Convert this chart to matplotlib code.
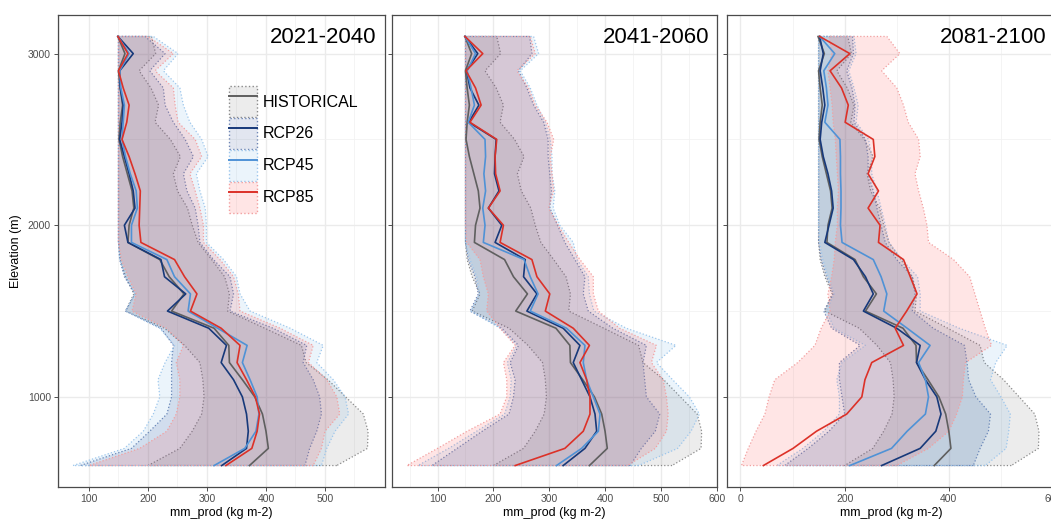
import matplotlib
matplotlib.use("Agg")
import matplotlib.pyplot as plt
from matplotlib.patches import Patch
from matplotlib.lines import Line2D

plt.rcParams["font.family"] = ["Liberation Sans", "DejaVu Sans"]

# ---- Data ----
elev = [600, 700, 800, 900, 1000, 1100, 1200, 1300, 1400, 1500, 1600, 1700, 1800,
        1900, 2000, 2100, 2200, 2300, 2400, 2500, 2600, 2700, 2800, 2900, 3000, 3100]

periods = ["2021-2040", "2041-2060", "2081-2100"]
scenarios = ["HISTORICAL", "RCP26", "RCP45", "RCP85"]

# historical (same in every panel)
hist_mid = [372, 404, 400, 394, 381, 360, 338, 337, 312, 240, 261, 236, 220,
            166, 168, 176, 173, 165, 157, 151, 153, 157, 153, 150, 161, 149]
hist_lo = [200, 254, 275, 291, 295, 293, 288, 262, 228, 162, 176, 162, 153,
           150, 150, 150, 150, 150, 150, 150, 150, 150, 150, 150, 150, 150]
hist_hi = [520, 572, 573, 565, 535, 505, 468, 460, 398, 335, 338, 330, 308,
           285, 275, 267, 250, 243, 255, 238, 212, 218, 205, 185, 213, 206]

# 2021-2040
p1_26_mid = [325, 367, 370, 367, 360, 345, 324, 333, 303, 233, 264, 228, 222,
             166, 160, 178, 175, 168, 160, 152, 156, 158, 153, 152, 175, 149]
p1_26_lo = [85, 172, 203, 232, 240, 240, 240, 243, 222, 162, 178, 160, 152,
            150, 150, 150, 150, 150, 150, 150, 150, 150, 150, 150, 150, 150]
p1_26_hi = [466, 474, 486, 494, 491, 480, 463, 469, 412, 339, 345, 339, 311,
            288, 285, 280, 266, 260, 277, 263, 243, 229, 226, 203, 229, 195]
p1_45_mid = [312, 364, 383, 388, 385, 373, 360, 368, 318, 268, 272, 245, 232,
             172, 172, 182, 180, 170, 162, 156, 158, 160, 154, 152, 168, 149]
p1_45_lo = [73, 160, 192, 209, 220, 217, 229, 245, 220, 162, 178, 162, 152,
            150, 150, 150, 150, 150, 150, 150, 150, 150, 150, 150, 150, 150]
p1_45_hi = [494, 503, 517, 540, 534, 514, 486, 497, 441, 373, 356, 350, 328,
            299, 299, 297, 288, 282, 302, 291, 271, 260, 254, 226, 251, 209]
p1_85_mid = [332, 376, 385, 389, 382, 367, 351, 356, 324, 272, 283, 262, 245,
             188, 185, 186, 187, 178, 168, 156, 164, 168, 158, 150, 166, 149]
p1_85_lo = [100, 186, 232, 248, 254, 254, 248, 260, 231, 173, 180, 166, 155,
            150, 150, 150, 150, 150, 150, 150, 150, 150, 150, 150, 150, 150]
p1_85_hi = [480, 494, 500, 525, 520, 503, 472, 480, 424, 356, 353, 345, 322,
            294, 294, 288, 280, 271, 291, 280, 251, 246, 243, 212, 243, 200]

# 2041-2060
p2_26_mid = [325, 364, 385, 382, 373, 358, 343, 355, 325, 260, 278, 254, 257,
             203, 215, 191, 210, 202, 203, 205, 156, 174, 158, 152, 172, 149]
p2_26_lo = [90, 135, 180, 228, 236, 239, 230, 245, 215, 158, 173, 167, 155,
            150, 150, 150, 150, 150, 150, 150, 150, 150, 150, 150, 150, 150]
p2_26_hi = [445, 465, 490, 498, 474, 471, 468, 474, 414, 370, 361, 364, 346,
            328, 315, 301, 304, 301, 298, 298, 290, 272, 260, 245, 269, 265]
p2_45_mid = [313, 358, 388, 391, 379, 367, 361, 364, 331, 266, 280, 266, 255,
             182, 185, 181, 186, 183, 186, 185, 155, 166, 160, 153, 168, 149]
p2_45_lo = [65, 120, 170, 220, 230, 232, 225, 242, 212, 160, 175, 170, 158,
            150, 150, 150, 150, 150, 150, 150, 150, 150, 150, 150, 150, 150]
p2_45_hi = [460, 530, 554, 569, 551, 521, 492, 527, 438, 380, 372, 370, 350,
            343, 319, 307, 310, 305, 305, 302, 293, 278, 266, 248, 281, 272]
p2_85_mid = [239, 328, 361, 373, 373, 367, 355, 372, 343, 293, 301, 278, 269,
             212, 218, 191, 212, 204, 203, 206, 158, 178, 168, 151, 181, 149]
p2_85_lo = [45, 100, 153, 212, 224, 224, 218, 239, 212, 188, 191, 182, 176,
            152, 150, 150, 150, 150, 150, 150, 150, 150, 150, 150, 150, 150]
p2_85_hi = [440, 490, 510, 513, 510, 504, 483, 492, 426, 388, 379, 379, 355,
            335, 316, 299, 308, 305, 302, 308, 296, 275, 263, 242, 275, 266]

# 2081-2100
p3_26_mid = [271, 345, 375, 385, 377, 355, 338, 345, 300, 236, 255, 240, 217,
             162, 170, 178, 175, 168, 159, 153, 156, 162, 158, 153, 159, 152]
p3_26_lo = [85, 130, 170, 200, 195, 190, 190, 230, 175, 160, 178, 165, 155,
            150, 150, 150, 150, 150, 150, 150, 150, 150, 150, 150, 150, 150]
p3_26_hi = [447, 460, 476, 480, 452, 438, 435, 430, 370, 330, 335, 330, 300,
            278, 270, 262, 255, 245, 245, 240, 218, 220, 214, 204, 217, 215]
p3_45_mid = [210, 290, 320, 355, 361, 355, 342, 364, 320, 275, 281, 270, 255,
             195, 192, 193, 193, 192, 192, 191, 162, 168, 165, 160, 181, 152]
p3_45_lo = [70, 120, 160, 190, 190, 185, 195, 240, 180, 165, 180, 168, 158,
            152, 150, 150, 150, 150, 150, 150, 150, 150, 150, 150, 150, 150]
p3_45_hi = [470, 510, 515, 518, 500, 480, 490, 512, 420, 345, 345, 340, 310,
            285, 278, 270, 262, 252, 252, 246, 222, 226, 218, 208, 222, 218]
p3_85_mid = [44, 101, 146, 204, 233, 239, 252, 313, 297, 319, 339, 326, 313,
             265, 268, 245, 265, 245, 258, 255, 201, 207, 194, 172, 210, 152]
p3_85_lo = [2, 15, 30, 47, 55, 66, 110, 143, 155, 172, 168, 175, 180,
            182, 186, 186, 188, 186, 184, 182, 178, 176, 172, 168, 175, 170]
p3_85_hi = [300, 361, 400, 415, 426, 428, 432, 482, 470, 460, 450, 440, 409,
            361, 358, 351, 342, 335, 345, 342, 322, 313, 300, 271, 306, 281]

panels = [
    {"HISTORICAL": (hist_mid, hist_lo, hist_hi), "RCP26": (p1_26_mid, p1_26_lo, p1_26_hi),
     "RCP45": (p1_45_mid, p1_45_lo, p1_45_hi), "RCP85": (p1_85_mid, p1_85_lo, p1_85_hi)},
    {"HISTORICAL": (hist_mid, hist_lo, hist_hi), "RCP26": (p2_26_mid, p2_26_lo, p2_26_hi),
     "RCP45": (p2_45_mid, p2_45_lo, p2_45_hi), "RCP85": (p2_85_mid, p2_85_lo, p2_85_hi)},
    {"HISTORICAL": (hist_mid, hist_lo, hist_hi), "RCP26": (p3_26_mid, p3_26_lo, p3_26_hi),
     "RCP45": (p3_45_mid, p3_45_lo, p3_45_hi), "RCP85": (p3_85_mid, p3_85_lo, p3_85_hi)},
]

# ---- Style ----
line_col = {"HISTORICAL": "#5f5f5f", "RCP26": "#17397a", "RCP45": "#4f92d6", "RCP85": "#dc3128"}
fill_col = {"HISTORICAL": ((0.5, 0.5, 0.5), 0.15), "RCP26": ((0.12, 0.27, 0.55), 0.13),
            "RCP45": ((0.24, 0.59, 0.86), 0.10), "RCP85": ((1.0, 0.24, 0.24), 0.13)}
edge_col = {"HISTORICAL": "#8a8a8a", "RCP26": "#6f86b5", "RCP45": "#9cc6ec", "RCP85": "#f2a0a0"}

positions = [[58 / 1051, 32 / 519, 327 / 1051, 472 / 519],
             [392 / 1051, 32 / 519, 325 / 1051, 472 / 519],
             [727 / 1051, 32 / 519, 328 / 1051, 472 / 519]]
xlims = [(47.5, 601.7), (18.4, 600.5), (-25.8, 603.8)]
xmajor = [[100, 200, 300, 400, 500], [100, 200, 300, 400, 500, 600], [0, 200, 400, 600]]
xminor = [[50, 150, 250, 350, 450, 550], [50, 150, 250, 350, 450, 550], [100, 300, 500]]

fig = plt.figure(figsize=(10.51, 5.19), dpi=100)

for i, data in enumerate(panels):
    ax = fig.add_axes(positions[i])
    for s in scenarios:
        mid, lo, hi = data[s]
        c, a = fill_col[s]
        ax.fill_betweenx(elev, lo, hi, facecolor=(*c, a), edgecolor=edge_col[s],
                         linestyle=":", linewidth=0.9, zorder=2)
    for s in scenarios:
        mid = data[s][0]
        ax.plot(mid, elev, color=line_col[s], lw=1.2, zorder=3)

    ax.set_xlim(*xlims[i])
    ax.set_ylim(475, 3225)
    ax.set_xticks(xmajor[i])
    ax.set_xticks(xminor[i], minor=True)
    ax.set_yticks([1000, 2000, 3000])
    ax.set_yticks([1500, 2500], minor=True)
    ax.grid(which="major", color="#ebebeb", lw=1.0, zorder=0)
    ax.grid(which="minor", color="#f2f2f2", lw=0.6, zorder=0)
    ax.set_axisbelow(True)
    ax.tick_params(which="major", length=3, width=0.6, color="#333333",
                   labelsize=7.5, labelcolor="#4d4d4d", pad=2)
    ax.tick_params(which="minor", length=0)
    for sp in ax.spines.values():
        sp.set_color("#4a4a4a")
        sp.set_linewidth(0.9)
    if i > 0:
        ax.tick_params(axis="y", labelleft=False)
    else:
        ax.set_ylabel("Elevation (m)", fontsize=9, labelpad=4)
    ax.set_xlabel("mm_prod (kg m-2)", fontsize=9, labelpad=2)
    ax.text(0.975, 0.975, periods[i], transform=ax.transAxes, ha="right", va="top",
            fontsize=16, color="black")

    if i == 0:
        handles = []
        for s in scenarios:
            c, a = fill_col[s]
            p = Patch(facecolor=(*c, a), edgecolor=edge_col[s], linestyle=":", linewidth=1.0)
            l = Line2D([], [], color=line_col[s], lw=1.4)
            handles.append((p, l))
        ax.legend(handles, scenarios, loc="upper left", bbox_to_anchor=(0.522, 0.849),
                  frameon=False, fontsize=11.5, handlelength=1.8, handleheight=2.6,
                  handletextpad=0.35, labelspacing=0.06, borderpad=0, borderaxespad=0)

fig.savefig("out.png", dpi=100)
